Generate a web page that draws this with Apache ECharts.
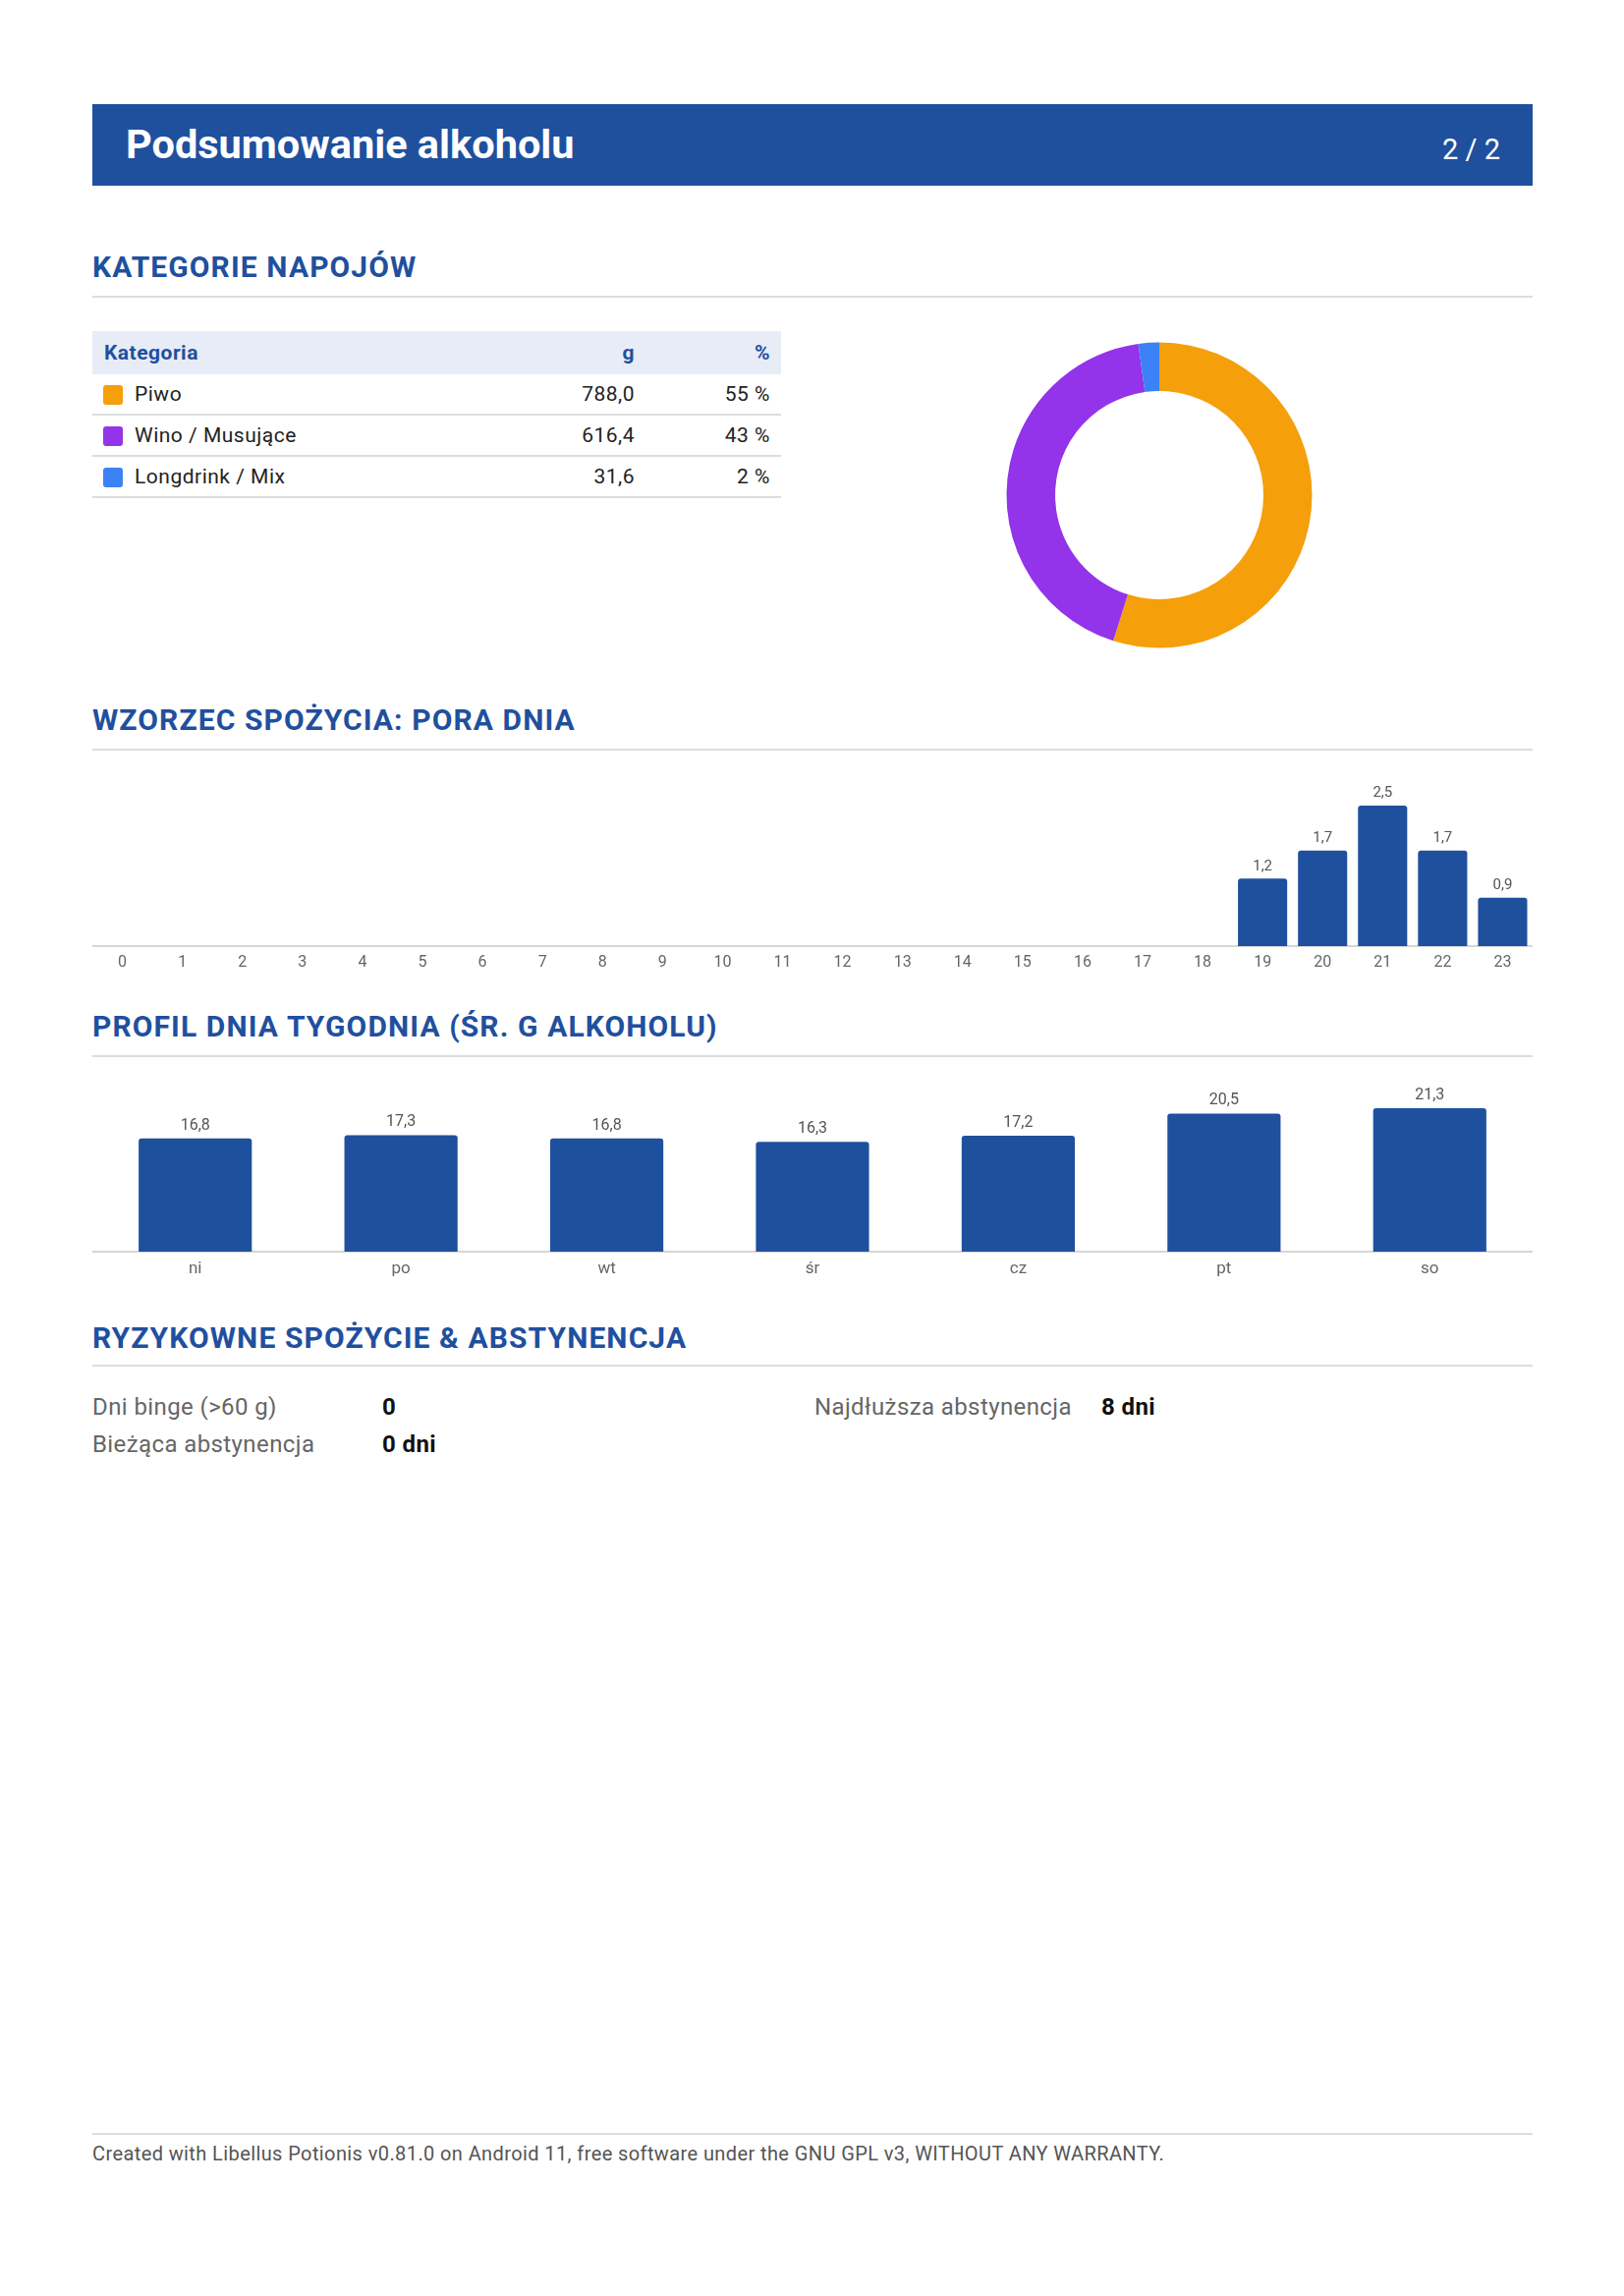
<!DOCTYPE html>
<html>
<head>
<meta charset="utf-8">
<script src="https://cdn.jsdelivr.net/npm/echarts@6/dist/echarts.min.js"></script>
<style>
    html, body { margin: 0; padding: 0; background: #fff; }
    body { font-family: Roboto, "Noto Sans", sans-serif; }
    #page { position: relative; width: 1653px; height: 2337px; overflow: hidden; }
    .abs { position: absolute; }
    #header { left: 94px; top: 106px; width: 1466px; height: 83px; background: #1f509e; color: #fff; }
    #title { position: absolute; left: 34px; top: 20px; font-size: 41.5px; line-height: 42px; font-weight: 700; white-space: nowrap; }
    #pageNo { position: absolute; right: 33px; top: 32px; font-size: 29px; line-height: 29px; font-weight: 400; white-space: nowrap; }
    .section { left: 94px; font-size: 30px; line-height: 30px; font-weight: 700; letter-spacing: 1.1px; color: #1f509e; white-space: nowrap; }
    .rule { left: 94px; width: 1466px; height: 2px; background: #dddddd; }
    #catTable { left: 94px; top: 337px; width: 701px; border-collapse: collapse; font-size: 21px; letter-spacing: 0.5px; color: #222; }
    #catTable th { height: 44px; padding: 0 11px 0 12px; background: #e8ecf6; color: #1f509e; font-weight: 700; text-align: left; }
    #catTable td { height: 40px; padding: 0 11px; border-bottom: 2px solid #dddddd; }
    #catTable .num { text-align: right; }
    .sw { display: inline-block; width: 20px; height: 20px; border-radius: 3px; vertical-align: -4px; margin-right: 12px; }
    .stat { font-size: 24px; line-height: 24px; letter-spacing: 0.4px; white-space: nowrap; }
    .lbl { color: #666; }
    .val { color: #111; font-weight: 700; }
    #footer { left: 94px; top: 2181px; font-size: 20px; line-height: 22px; letter-spacing: 0.4px; color: #555; white-space: nowrap; }
</style>
</head>
<body>
<div id="page">
    <div id="header" class="abs">
        <span id="title">Podsumowanie alkoholu</span>
        <span id="pageNo">2 / 2</span>
    </div>

    <div class="abs section" style="top:257px">KATEGORIE NAPOJÓW</div>
    <div class="abs rule" style="top:301px"></div>
    <table id="catTable" class="abs">
        <thead>
            <tr><th style="width:403px">Kategoria</th><th class="num" style="text-align:right">g</th><th class="num" style="text-align:right;width:115px">%</th></tr>
        </thead>
        <tbody id="catBody"></tbody>
    </table>
    <div id="donut" class="abs" style="left:980px;top:304px;width:400px;height:400px"></div>

    <div class="abs section" style="top:718px">WZORZEC SPOŻYCIA: PORA DNIA</div>
    <div class="abs rule" style="top:762px"></div>
    <div id="hourChart" class="abs" style="left:94px;top:790px;width:1466px;height:205px"></div>

    <div class="abs section" style="top:1030px">PROFIL DNIA TYGODNIA (ŚR. G ALKOHOLU)</div>
    <div class="abs rule" style="top:1074px"></div>
    <div id="weekChart" class="abs" style="left:94px;top:1100px;width:1466px;height:220px"></div>

    <div class="abs section" style="top:1347px">RYZYKOWNE SPOŻYCIE &amp; ABSTYNENCJA</div>
    <div class="abs rule" style="top:1389px"></div>
    <div class="abs stat lbl" style="left:94px;top:1420px">Dni binge (&gt;60 g)</div>
    <div class="abs stat val" style="left:389px;top:1420px">0</div>
    <div class="abs stat lbl" style="left:829px;top:1420px">Najdłuższa abstynencja</div>
    <div class="abs stat val" style="left:1121px;top:1420px">8 dni</div>
    <div class="abs stat lbl" style="left:94px;top:1458px">Bieżąca abstynencja</div>
    <div class="abs stat val" style="left:389px;top:1458px">0 dni</div>

    <div class="abs rule" style="top:2171px"></div>
    <div id="footer" class="abs">Created with Libellus Potionis v0.81.0 on Android 11, free software under the GNU GPL v3, WITHOUT ANY WARRANTY.</div>
</div>

<script>
// drink categories (grams of pure alcohol)
var categories = ['Piwo', 'Wino / Musujące', 'Longdrink / Mix'];
var grams = [788.0, 616.4, 31.6];
var catColors = ['#f59f0b', '#9333ea', '#3b82f6'];

// time of day pattern
var hours = ['0', '1', '2', '3', '4', '5', '6', '7', '8', '9', '10', '11',
    '12', '13', '14', '15', '16', '17', '18', '19', '20', '21', '22', '23'];
var hourValues = [0, 0, 0, 0, 0, 0, 0, 0, 0, 0, 0, 0,
    0, 0, 0, 0, 0, 0, 0, 1.2, 1.7, 2.5, 1.7, 0.86];

// weekday profile (avg g alcohol)
var weekdays = ['ni', 'po', 'wt', 'śr', 'cz', 'pt', 'so'];
var weekValues = [16.8, 17.3, 16.8, 16.3, 17.2, 20.5, 21.3];

var barColor = '#1f509e';

function fmt1(v) {
    return v.toFixed(1).replace('.', ',');
}

// table
var total = grams.reduce(function (a, b) { return a + b; }, 0);
var body = document.getElementById('catBody');
for (var i = 0; i < categories.length; i++) {
    var tr = document.createElement('tr');
    tr.innerHTML = '<td><span class="sw" style="background:' + catColors[i] + '"></span>' + categories[i] + '</td>' +
        '<td class="num">' + fmt1(grams[i]) + '</td>' +
        '<td class="num">' + Math.round(grams[i] / total * 100) + ' %</td>';
    body.appendChild(tr);
}

// donut
var donut = echarts.init(document.getElementById('donut'));
donut.setOption({
    animation: false,
    series: [{
        type: 'pie',
        center: ['50%', '50%'],
        radius: [106, 155.5],
        startAngle: 90,
        clockwise: true,
        label: { show: false },
        labelLine: { show: false },
        emphasis: { disabled: true },
        data: categories.map(function (c, i) {
            return { name: c, value: grams[i], itemStyle: { color: catColors[i] } };
        })
    }]
});

function barOption(cats, values, gap, top, bottom) {
    return {
        animation: false,
        grid: { left: 0, right: 0, top: top, bottom: bottom },
        xAxis: {
            type: 'category',
            data: cats,
            axisTick: { show: false },
            axisLine: { lineStyle: { color: '#d6d6d6', width: 2 } },
            axisLabel: { color: '#666', fontSize: 16, margin: 9, fontFamily: 'Roboto' }
        },
        yAxis: {
            type: 'value',
            min: 0,
            max: 'dataMax',
            show: false,
            splitLine: { show: false }
        },
        series: [{
            type: 'bar',
            data: values,
            barCategoryGap: gap,
            itemStyle: { color: barColor, borderRadius: [3, 3, 0, 0] },
            label: {
                show: true,
                position: 'top',
                distance: 5,
                color: '#555',
                fontSize: 15,
                fontFamily: 'Roboto',
                formatter: function (p) {
                    return p.value > 0 ? fmt1(p.value) : '';
                }
            }
        }]
    };
}

// hours chart
var hourChart = echarts.init(document.getElementById('hourChart'));
hourChart.setOption(barOption(hours, hourValues, '18%', 30, 32));

// weekday chart
var weekChart = echarts.init(document.getElementById('weekChart'));
var wOpt = barOption(weekdays, weekValues, '45%', 28, 46);
wOpt.series[0].label.fontSize = 16;
wOpt.xAxis.axisLabel.fontSize = 17;
weekChart.setOption(wOpt);
</script>
</body>
</html>
